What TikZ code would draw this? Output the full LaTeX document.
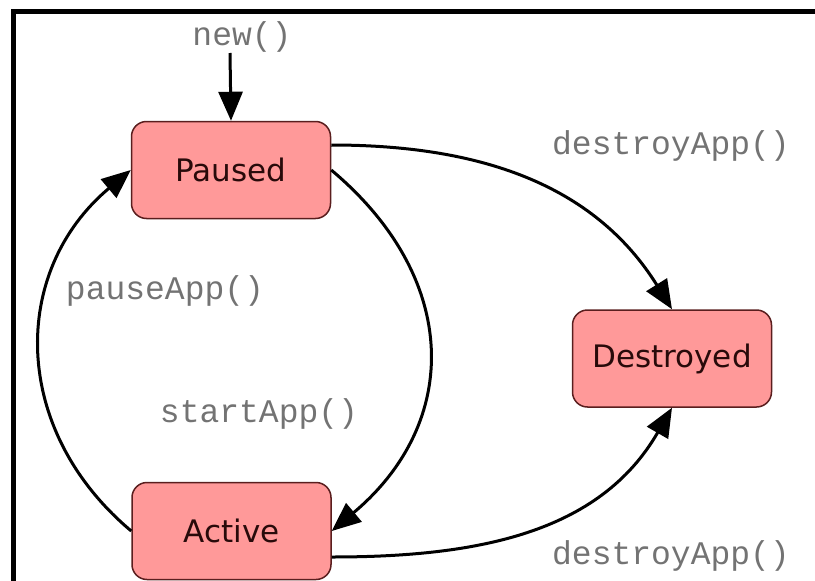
\documentclass[tikz,border=0pt]{standalone}
\usepackage{fontspec}
\setmainfont{DejaVu Sans}
\newfontfamily\codefont{Liberation Mono}
\usetikzlibrary{arrows.meta}
\definecolor{statefill}{RGB}{255,153,153}
\definecolor{stateline}{RGB}{90,30,30}
\definecolor{statetext}{RGB}{40,10,10}
\definecolor{calltext}{RGB}{115,115,115}

\begin{document}
\begin{tikzpicture}[x=1pt,y=1pt,
    state/.style={draw=stateline, line width=1.5pt, fill=statefill, rounded corners=15pt,
      minimum width=199pt, minimum height=97pt, inner sep=0pt, text=statetext,
      font=\fontsize{31}{34}\selectfont},
    call/.style={text=calltext, inner sep=0pt, font=\codefont\fontsize{33}{36}\selectfont},
    trans/.style={line width=3pt, -{Triangle[length=29pt,width=24pt]}}]
  \useasboundingbox (0,0) rectangle (815,-581);
  % frame
  \draw[line width=5pt] (13.5,-600) -- (13.5,-11.5) -- (830,-11.5);
  % states
  \node[state] (paused) at (231,-170) {Paused};
  \node[state] (destroyed) at (672,-358.5) {Destroyed};
  \node[state] (active) at (231.5,-531) {Active};
  % labels
  \coordinate (start) at (230,-53);
  \node[call] (newlbl) at (242,-37) {new()};
  \node[call] (destroyup) at (671,-146) {destroyApp()};
  \node[call] (pauselbl) at (165,-291) {pauseApp()};
  \node[call] (startlbl) at (259,-414) {startApp()};
  \node[call] (destroydown) at (671,-556) {destroyApp()};
  % transitions
  \draw[trans] (start) -- (paused.north);
  \draw[trans] ([yshift=25pt]paused.east) to[out=0,in=122] (destroyed.north);
  \draw[trans] (paused.east) to[out=-40,in=40,looseness=1.2] (active.east);
  \draw[trans] (active.west) to[out=140,in=-140,looseness=1.12] (paused.west);
  \draw[trans] ([yshift=-26pt]active.east) to[out=0,in=-120] (destroyed.south);
\end{tikzpicture}
\end{document}
